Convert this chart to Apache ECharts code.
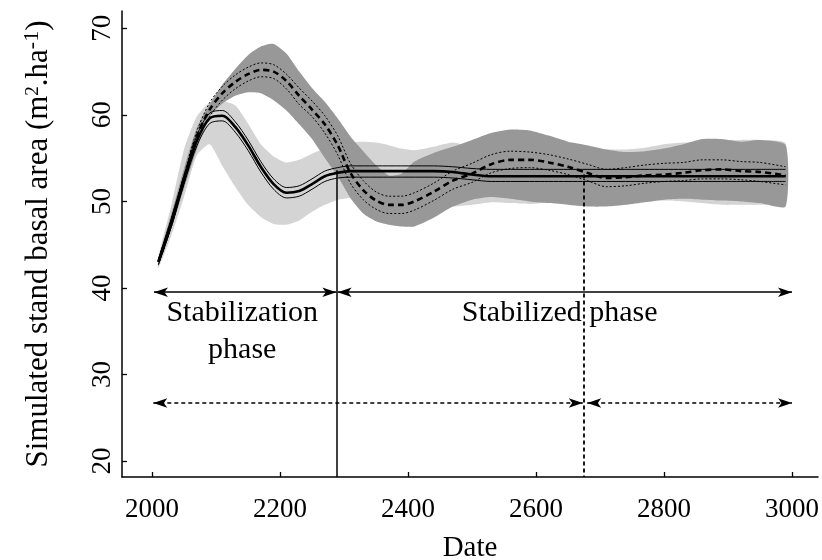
<!DOCTYPE html>
<html><head><meta charset="utf-8">
<script src="https://cdn.jsdelivr.net/npm/echarts@6/dist/echarts.min.js"></script>
<style>html,body{margin:0;padding:0;background:#fff}#c{width:822px;height:560px}</style>
</head><body><div id="c"></div>
<script>
const years = [2010,2030,2050,2070,2090,2110,2130,2150,2170,2190,2210,2230,2250,2270,2290,2310,2330,2350,2370,2390,2410,2440,2470,2500,2530,2560,2590,2620,2650,2680,2710,2740,2770,2800,2830,2860,2890,2920,2950,2990];

// light grey envelope (run A)
const lightLow  = [42.3,46.0,50.5,55.3,56.6,54.1,51.7,49.6,48.2,47.4,47.3,47.8,48.8,49.6,50.2,50.4,50.4,50.3,50.2,50.0,49.8,49.6,49.4,49.6,49.9,49.8,49.7,49.9,50.1,50.0,50.0,50.0,50.1,50.1,50.0,49.8,49.6,49.6,49.6,49.9];
const lightHigh = [43.6,49.5,56.0,59.8,61.4,61.6,61.1,59.0,56.6,55.2,54.5,54.8,55.5,56.1,56.5,56.8,56.9,56.8,56.5,56.1,55.9,56.3,56.8,56.3,56.0,56.0,56.0,56.0,56.0,56.0,56.0,56.0,56.2,56.6,56.8,56.9,57.0,57.1,57.1,56.7];

// dark grey envelope (run B)
const darkLow  = [42.5,46.8,51.5,56.0,59.8,61.3,62.2,62.6,62.5,61.7,60.5,58.9,57.2,55.0,52.9,50.4,48.6,47.7,47.3,47.1,47.1,48.1,49.4,50.2,50.5,50.3,50.0,49.8,49.6,49.4,49.4,49.6,49.9,50.2,50.3,50.2,50.1,50.0,49.8,49.4];
const darkHigh = [43.4,48.5,53.8,58.5,61.2,63.5,65.3,66.9,67.9,68.2,67.1,65.0,63.1,61.5,59.6,57.5,55.8,54.2,53.0,53.2,54.6,55.6,56.3,57.1,57.9,58.3,58.2,57.6,56.9,56.5,56.0,55.7,55.8,56.1,56.6,57.2,57.2,56.9,57.1,56.5];

// run A : mean (thick solid) and bounds (thin solid)
const meanA = [43.0,47.5,52.5,57.0,59.6,59.9,58.6,56.5,54.0,52.0,51.0,51.2,52.0,52.9,53.3,53.5,53.5,53.5,53.5,53.5,53.5,53.5,53.4,53.1,52.9,52.9,52.9,52.9,52.9,52.9,52.9,52.9,52.9,52.9,52.9,52.9,52.9,52.9,52.9,52.9];
const upA   = [43.3,48.0,53.0,57.6,60.2,60.5,59.2,57.1,54.6,52.6,51.6,51.8,52.6,53.5,53.9,54.1,54.1,54.1,54.1,54.1,54.1,54.1,54.0,53.8,53.7,53.7,53.7,53.7,53.7,53.7,53.7,53.7,53.7,53.7,53.7,53.7,53.7,53.7,53.7,53.7];
const loA   = [42.7,47.0,52.0,56.4,59.0,59.3,58.0,55.9,53.4,51.4,50.4,50.6,51.4,52.3,52.7,52.8,52.8,52.8,52.8,52.8,52.8,52.8,52.7,52.5,52.3,52.3,52.3,52.3,52.3,52.3,52.3,52.3,52.3,52.3,52.3,52.3,52.3,52.3,52.3,52.3];

// run B : mean (thick dashed) and bounds (dotted)
const meanB = [43.0,47.5,52.6,57.5,60.6,62.5,63.8,64.7,65.2,65.0,63.9,62.2,60.6,58.9,56.5,53.3,51.3,50.1,49.6,49.6,50.0,51.1,52.4,53.2,54.3,54.8,54.8,54.5,54.0,53.3,52.7,52.8,53.0,53.1,53.3,53.6,53.7,53.5,53.4,53.0];
const upB   = [43.3,48.0,53.1,58.1,61.4,63.3,64.6,65.5,66.0,65.8,64.7,63.1,61.6,59.9,57.6,54.4,52.4,51.1,50.6,50.6,51.0,52.1,53.5,54.4,55.4,55.8,55.7,55.4,54.9,54.3,53.7,53.9,54.2,54.4,54.5,54.8,54.8,54.6,54.5,54.0];
const loB   = [42.7,47.0,52.1,56.9,59.8,61.7,63.0,63.9,64.4,64.2,63.0,61.2,59.8,57.9,55.4,52.1,50.2,49.1,48.6,48.6,49.0,50.1,51.4,52.2,53.3,53.8,53.9,53.6,53.1,52.4,51.7,51.8,52.1,52.3,52.4,52.6,52.6,52.5,52.3,51.9];

const xTicks = [2000,2200,2400,2600,2800,3000];
const yTicks = [20,30,40,50,60,70];

// phase boundaries and annotation arrows (data coordinates)
const stabEnd = 2289, stabEndTop = 53.6;
const subEnd = 2675, subEndTop = 53.1;
const arrowSolidY = 39.5, arrowDashY = 26.7;
const arrowSolid = [[2003,2288],[2290,3000]];
const arrowDash = [[2002,2673],[2680,3000]];
const textStab = {x:2141, y:34.95, t:'Stabilization\nphase'};
const textStabd = {x:2637, y:37.1, t:'Stabilized phase'};

const FONT = 'Liberation Serif';
const Y_MIN = 18.15, Y_MAX = 72, X_MIN = 1953.1, X_MAX = 3040.6;
const pairs = arr => years.map((x,i)=>[x, arr[i]]);
const SM = 0.3;

function band(lo, hi, color){
  return {type:'custom', silent:true, data:[[years[0], lo[0]]],
    renderItem:(params, api)=>{
      const pts = [];
      for (let i=0;i<years.length;i++) pts.push(api.coord([years[i], hi[i]]));
      for (let i=years.length-1;i>=0;i--) pts.push(api.coord([years[i], lo[i]]));
      return {type:'polygon', shape:{points:pts, smooth:0.2}, style:{fill:color, stroke:null}};
    }};
}
function line(arr, width, type){
  return {type:'line', data:pairs(arr), symbol:'none', smooth:SM, silent:true,
    lineStyle:{color:'#000', width:width, type:type}};
}

const arrowLines = [];
arrowSolid.forEach(a=>arrowLines.push([{coord:[a[0],arrowSolidY], lineStyle:{type:'solid'}},{coord:[a[1],arrowSolidY]}]));
arrowDash.forEach(a=>arrowLines.push([{coord:[a[0],arrowDashY], lineStyle:{type:[4,3]}},{coord:[a[1],arrowDashY]}]));

const series = [
  band(lightLow, lightHigh, '#d4d4d4'),
  band(darkLow, darkHigh, '#989898'),
  line(upA, 1, 'solid'),
  line(loA, 1, 'solid'),
  line(meanA, 2.6, 'solid'),
  line(upB, 1, [2,2]),
  line(loB, 1, [2,2]),
  line(meanB, 2.6, [6,4]),
  {type:'line', data:[], silent:true,
    markLine:{silent:true, animation:false, symbol:'none', label:{show:false},
      lineStyle:{color:'#000', width:1.5},
      data:[
        [{coord:[stabEnd, stabEndTop], lineStyle:{type:'solid', width:1.5}},{coord:[stabEnd, Y_MIN]}],
        [{coord:[subEnd, subEndTop], lineStyle:{type:[4,3], width:1.8}},{coord:[subEnd, Y_MIN]}]
      ]}},
  {type:'line', data:[], silent:true,
    markLine:{silent:true, animation:false, symbol:['arrow','arrow'], symbolSize:[7,14], label:{show:false},
      lineStyle:{color:'#000', width:1.5},
      data: arrowLines}}
];

const chart = echarts.init(document.getElementById('c'), null, {renderer:'canvas'});
chart.setOption({
  animation:false,
  backgroundColor:'#fff',
  grid:{left:122, right:4, top:11, bottom:83, containLabel:false, outerBoundsMode:'none'},
  xAxis:{type:'value', min:X_MIN, max:X_MAX,
    name:'Date', nameLocation:'middle', nameGap:57,
    nameTextStyle:{fontFamily:FONT, fontSize:29, color:'#000'},
    axisLine:{show:true, onZero:false, lineStyle:{color:'#000', width:1.5}},
    axisTick:{show:true, inside:true, length:5, customValues:xTicks, lineStyle:{color:'#000', width:1.3}},
    axisLabel:{customValues:xTicks, formatter:v=>String(v), fontFamily:FONT, fontSize:27, color:'#000', margin:19},
    splitLine:{show:false}},
  yAxis:{type:'value', min:Y_MIN, max:Y_MAX,
    name:'Simulated stand basal area (m{s2|2}.ha{s1|-1})', nameLocation:'middle', nameGap:66, nameRotate:90,
    nameTextStyle:{fontFamily:FONT, fontSize:31, color:'#000',
      rich:{s2:{fontFamily:FONT, fontSize:19, color:'#000', padding:[0,0,11,0]},
            s1:{fontFamily:FONT, fontSize:22, color:'#000', padding:[0,0,13,0]}}},
    axisLine:{show:true, onZero:false, lineStyle:{color:'#000', width:1.5}},
    axisTick:{show:true, inside:true, length:5, customValues:yTicks, lineStyle:{color:'#000', width:1.3}},
    axisLabel:{customValues:yTicks, formatter:v=>String(v), rotate:90, fontFamily:FONT, fontSize:27, color:'#000', margin:6},
    splitLine:{show:false}},
  series: series
});

function addTexts(){
  const p1 = chart.convertToPixel({gridIndex:0}, [textStab.x, textStab.y]);
  const p2 = chart.convertToPixel({gridIndex:0}, [textStabd.x, textStabd.y]);
  chart.setOption({graphic:[
    {type:'text', x:p1[0], y:p1[1], silent:true, style:{text:textStab.t, fontFamily:FONT, fontSize:30, lineHeight:37, fill:'#000', align:'center', verticalAlign:'middle'}},
    {type:'text', x:p2[0], y:p2[1], silent:true, style:{text:textStabd.t, fontFamily:FONT, fontSize:30, fill:'#000', align:'center', verticalAlign:'middle'}}
  ]});
}
addTexts();
</script></body></html>
